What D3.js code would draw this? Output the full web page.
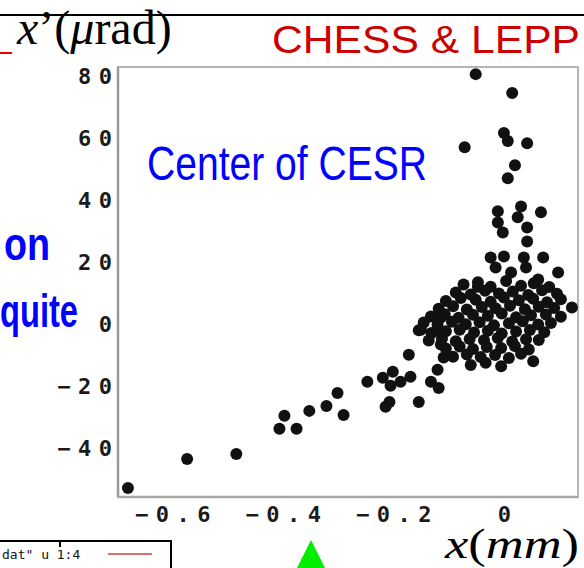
<!DOCTYPE html>
<html><head><meta charset="utf-8">
<script src="https://cdn.jsdelivr.net/npm/d3@7"></script>
<style>html,body{margin:0;padding:0;background:#fff;overflow:hidden}</style>
</head><body>
<svg id="c" width="584" height="568"></svg>
<script>
// ---- data (x in mm, x' in µrad) ----
const outlierX = [-0.680,-0.573,-0.484,-0.406,-0.375,-0.397,-0.352,-0.321,-0.290,-0.301,-0.247,-0.219,-0.201,-0.205,-0.214,-0.207,-0.172,-0.150,-0.169,-0.154,-0.132,-0.118,-0.114,-0.114,-0.114,-0.109,-0.120,-0.187];
const outlierY = [-52.9,-43.5,-41.9,-33.8,-33.8,-29.6,-28.0,-26.4,-29.3,-22.2,-18.6,-17.3,-15.4,-19.9,-26.7,-25.1,-9.9,-1.8,-17.0,-25.1,-18.6,-20.6,2.1,-2.8,-6.6,-10.8,-14.7,-18.6];
const upperX = [-0.051,0.015,0.000,0.007,0.042,-0.071,0.020,0.007,-0.011,0.031,0.067,0.025,-0.011,0.042,-0.002,0.042,-0.024,0.000,0.036,0.071,-0.015,0.040,0.098,0.013,0.062,-0.047];
const upperY = [80.7,74.6,61.7,59.1,58.4,57.1,51.3,47.1,36.4,38.0,36.1,34.5,32.8,31.2,29.6,26.7,21.5,21.8,21.5,21.5,18.3,18.3,16.7,16.7,14.4,12.1];
const coreX = [
 -0.073,-0.047,-0.024,0.004,0.031,0.054,0.082,
 -0.087,-0.060,-0.034,-0.009,0.016,0.044,0.069,0.096,
 -0.105,-0.078,-0.051,-0.024,0.000,0.027,0.053,0.078,0.103,
 -0.118,-0.092,-0.067,-0.040,-0.015,0.011,0.038,0.063,0.091,0.123,
 -0.132,-0.107,-0.082,-0.056,-0.029,-0.004,0.022,0.049,0.076,0.103,
 -0.145,-0.120,-0.094,-0.069,-0.044,-0.018,0.009,0.034,0.062,0.085,
 -0.154,-0.131,-0.105,-0.080,-0.054,-0.029,-0.004,0.022,0.047,0.073,
 -0.136,-0.112,-0.087,-0.062,-0.036,-0.011,0.015,0.040,0.063,
 -0.105,-0.080,-0.056,-0.031,-0.005,0.020,0.045,
 -0.092,-0.067,-0.042,-0.016,0.009,0.031,
 -0.060,-0.033,-0.005,0.053];
const coreY = [
 12.8,13.5,12.1,13.9,12.4,13.2,12.0,
 10.2,9.6,10.8,9.9,10.5,9.4,10.9,9.8,
 7.5,8.4,7.9,7.2,8.6,7.7,8.2,7.1,8.0,
 5.0,5.8,4.7,5.5,5.1,5.9,4.8,5.6,5.2,5.4,
 2.5,3.2,2.1,3.0,2.7,3.4,2.2,2.9,3.1,2.4,
 0.5,-0.2,0.8,0.0,0.6,-0.4,0.3,0.9,-0.1,0.4,
 -2.0,-2.9,-2.3,-1.8,-2.7,-2.1,-3.0,-2.4,-1.9,-2.6,
 -5.3,-4.6,-5.5,-4.8,-5.2,-4.5,-5.6,-4.9,-5.1,
 -7.9,-7.2,-8.0,-7.4,-7.7,-7.1,-8.2,
 -10.5,-9.8,-10.6,-10.0,-10.9,-9.6,
 -13.2,-12.5,-13.6,-12.0];
const xTicks = [-0.6,-0.4,-0.2,0];
const yTicks = [80,60,40,20,0,-20,-40];
const xDomain = [-0.698,0.134];
const yDomain = [-55.8,83.0];

const svg = d3.select("#c");
const L=118, R=578, T=67, B=497;
const x = d3.scaleLinear().domain(xDomain).range([L,R]);
const y = d3.scaleLinear().domain(yDomain).range([B,T]);

// frame
const g = svg.append("g");
g.append("rect").attr("x",L).attr("y",T).attr("width",R-L).attr("height",B-T)
 .attr("fill","none").attr("stroke","#b4b4b4").attr("stroke-width",2);
g.append("line").attr("x1",L).attr("x2",L).attr("y1",T).attr("y2",B).attr("stroke","#9a9a9a").attr("stroke-width",2.5);
g.append("line").attr("x1",L).attr("x2",R).attr("y1",B).attr("y2",B).attr("stroke","#a8a8a8").attr("stroke-width",2.5);

// axes via d3
const LS = 7.5;
const tickFont = "DejaVu Sans Mono";
const ax = g.append("g").attr("transform",`translate(0,${B})`)
 .call(d3.axisBottom(x).tickValues(xTicks).tickSize(0).tickPadding(9)
   .tickFormat(d=> d===0 ? "0" : d3.format(".1f")(d).replace("-","−")));
ax.select(".domain").remove();
ax.selectAll("text").attr("font-family",tickFont).attr("font-size",22).attr("font-weight","bold")
 .attr("fill","#1a1a1a").attr("letter-spacing",LS).attr("dx",LS/2);
const ay = g.append("g").attr("transform",`translate(${L},0)`)
 .call(d3.axisLeft(y).tickValues(yTicks).tickSize(0).tickPadding(6)
   .tickFormat(d=> String(d).replace("-","−")));
ay.select(".domain").remove();
ay.selectAll("text").attr("font-family",tickFont).attr("font-size",22).attr("font-weight","bold")
 .attr("fill","#1a1a1a").attr("letter-spacing",LS).attr("dx",LS);

// points
const pts = [];
outlierX.forEach((v,i)=>pts.push([v,outlierY[i]]));
upperX.forEach((v,i)=>pts.push([v,upperY[i]]));
coreX.forEach((v,i)=>pts.push([v,coreY[i]]));
g.append("g").selectAll("circle").data(pts).join("circle")
 .attr("cx",d=>x(d[0])).attr("cy",d=>y(d[1])).attr("r",6)
 .attr("fill","#111");

// header line and labels
svg.append("line").attr("x1",0).attr("x2",584).attr("y1",15).attr("y2",15).attr("stroke","#000").attr("stroke-width",2);
svg.append("line").attr("x1",0).attr("x2",12).attr("y1",53).attr("y2",53).attr("stroke","#e00").attr("stroke-width",2);
const yl = svg.append("text").attr("x",17).attr("y",44).attr("font-family","Liberation Serif").attr("font-size",48).attr("fill","#000");
yl.append("tspan").attr("font-style","italic").text("x");
yl.append("tspan").text("’(");
yl.append("tspan").attr("font-style","italic").text("μ");
yl.append("tspan").text("rad)");

svg.append("text").attr("x",272).attr("y",53).attr("font-family","Liberation Sans").attr("font-size",39)
 .attr("fill","#cc0000").attr("textLength",308).attr("lengthAdjust","spacingAndGlyphs").text("CHESS & LEPP");

svg.append("text").attr("x",147).attr("y",180).attr("font-family","Liberation Sans").attr("font-size",48)
 .attr("fill","#0000ff").attr("textLength",280).attr("lengthAdjust","spacingAndGlyphs").text("Center of CESR");
svg.append("g").attr("transform","translate(4,260) scale(0.82,1)")
 .append("text").attr("font-family","Liberation Sans").attr("font-weight","bold").attr("font-size",46)
 .attr("fill","#0000ff").text("on");
svg.append("g").attr("transform","translate(0,327) scale(0.71,1)")
 .append("text").attr("font-family","Liberation Sans").attr("font-weight","bold").attr("font-size",46)
 .attr("fill","#0000ff").text("quite");

const xl = svg.append("text").attr("x",445).attr("y",558).attr("font-family","Liberation Serif").attr("font-size",42).attr("fill","#000")
 .attr("textLength",134).attr("lengthAdjust","spacingAndGlyphs");
xl.append("tspan").attr("font-style","italic").text("x");
xl.append("tspan").text("(");
xl.append("tspan").attr("font-style","italic").text("mm");
xl.append("tspan").text(")");

// legend box fragment
svg.append("rect").attr("x",-2).attr("y",541).attr("width",173).attr("height",40).attr("fill","#fff").attr("stroke","#000").attr("stroke-width",2);
svg.append("line").attr("x1",60).attr("x2",60).attr("y1",541).attr("y2",547).attr("stroke","#000").attr("stroke-width",2);
svg.append("text").attr("x",2).attr("y",559).attr("font-family","DejaVu Sans Mono").attr("font-size",13).attr("fill","#111").text('dat" u 1:4');
svg.append("line").attr("x1",108).attr("x2",152).attr("y1",554).attr("y2",554).attr("stroke","#d04040").attr("stroke-width",1.5);

// green marker
svg.append("path").attr("d","M311,540 L325,568 L297,568 Z").attr("fill","#00ee00");
</script>
</body></html>
